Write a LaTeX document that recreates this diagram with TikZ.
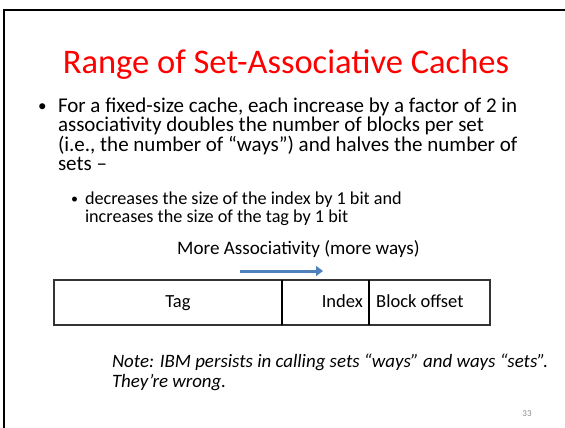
\documentclass[tikz,border=0pt]{standalone}
\usepackage{fontspec}
\setmainfont{Carlito}
\usetikzlibrary{arrows.meta}
\definecolor{titlered}{RGB}{255,0,0}
\definecolor{arrowblue}{RGB}{79,129,189}
\definecolor{pagenum}{RGB}{140,140,140}
\tikzset{
  x=1pt, y=-1pt,
  % multi-line text nodes: the base anchor sits on the last line
  line/.style={anchor=base west, inner sep=0pt, outer sep=0pt, align=left},
  bodytext/.style={line, font=\fontsize{21}{19.5}\selectfont},
  subtext/.style={line, font=\fontsize{18.2}{18.5}\selectfont},
  dot/.style={anchor=base west, inner sep=0pt, outer sep=0pt},
  field/.style={font=\fontsize{18.5}{20}\selectfont, inner sep=0pt},
  divider/.style={line width=2.4pt, black},
}
\begin{document}
\begin{tikzpicture}
\useasboundingbox (0,0) rectangle (565,428);
% slide frame
\draw[line width=2pt] (4,10) rectangle (580,440);

% title
\node[anchor=base, inner sep=0pt, text=titlered, font=\fontsize{34.5}{38}\selectfont] (title) at (286,74) {Range of Set-Associative Caches};

% main bullet
\node[dot, font=\fontsize{17}{19}\selectfont] (b1) at (38,111) {•};
\node[bodytext] (t1) at (58,170.5) {For a fixed-size cache, each increase by a factor of 2 in\\
associativity doubles the number of blocks per set\\
(i.e., the number of “ways”) and halves the number of\\
sets –};

% sub bullet
\node[dot, font=\fontsize{14}{16}\selectfont] (b2) at (71,203) {•};
\node[subtext] (t2) at (85,222.5) {decreases the size of the index by 1 bit and\\
increases the size of the tag by 1 bit};

% direction label and arrow
\node[field, anchor=base west, font=\fontsize{19.1}{21}\selectfont] (more) at (177,254) {More Associativity (more ways)};
\coordinate (arrS) at (240,271);
\coordinate (arrE) at (323,271);
\draw[arrowblue, line width=3pt, -{Triangle[length=7pt,width=10pt]}] (arrS) -- (arrE);

% address fields
\draw[line width=1.2pt, black!80] (54,280) rectangle (490,325);
\coordinate (d1t) at (282,280); \coordinate (d1b) at (282,325);
\coordinate (d2t) at (369,280); \coordinate (d2b) at (369,325);
\draw[divider] (d1t) -- (d1b);
\draw[divider] (d2t) -- (d2b);
\node[field, anchor=base] (tag) at (178,307) {Tag};
\node[field, anchor=base east] (index) at (363,307) {Index};
\node[field, anchor=base west] (offset) at (376,307) {Block offset};

% note
\node[line, font=\fontsize{18.9}{20.5}\selectfont\itshape] (note) at (112,387.5) {Note: IBM persists in calling sets “ways” and ways “sets”.\\
They’re wrong.};

% page number
\node[anchor=base, inner sep=0pt, text=pagenum, font=\fontsize{9}{10}\selectfont] (num) at (527,416) {33};
\end{tikzpicture}
\end{document}
